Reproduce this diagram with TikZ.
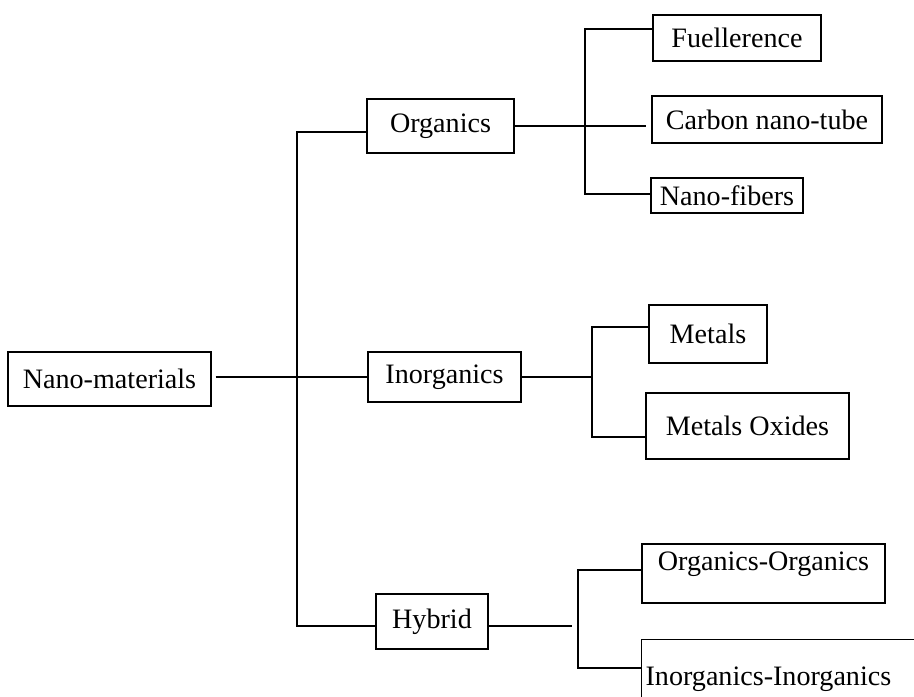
\documentclass[tikz,border=0pt]{standalone}
\usepackage{fontspec}
\setmainfont{Liberation Serif}
\usetikzlibrary{positioning}

\begin{document}
\begin{tikzpicture}[x=0.02cm, y=-0.02cm,
        box/.style={draw, line width=0.7pt, inner sep=0pt, font=\fontsize{16}{19}\selectfont},
        link/.style={line width=0.7pt}]
        \useasboundingbox (0,0) rectangle (914,697);
        \clip (0,0) rectangle (914,697);
        \node[box, minimum width=4.06cm, minimum height=1.08cm] (nano) at (109.5,379) {Nano-materials};
        \node[box, minimum width=2.94cm, minimum height=1.08cm] (org) at (440.5,126) {Organics};
        \node[box, minimum width=3.06cm, minimum height=1.00cm] (inorg) at (444.5,377) {Inorganics};
        \node[box, minimum width=2.24cm, minimum height=1.10cm] (hyb) at (432,621.5) {Hybrid};
        \node[box, minimum width=3.36cm, minimum height=0.92cm] (fuel) at (737,38) {Fuellerence};
        \node[box, minimum width=4.60cm, minimum height=0.94cm] (cnt) at (767,119.5) {Carbon nano-tube};
        \node[box, minimum width=3.04cm, minimum height=0.70cm] (fib) at (727,195.5) {Nano-fibers};
        \node[box, minimum width=2.36cm, minimum height=1.16cm] (met) at (708,334) {Metals};
        \node[box, minimum width=4.06cm, minimum height=1.32cm] (metox) at (747.5,426) {Metals Oxides};
        \node[box, minimum width=4.86cm, minimum height=1.18cm, text depth=0.5cm] (orgorg) at (763.5,573.5) {Organics-Organics};
        \node[box, anchor=north west, inner xsep=0.08cm, text width=5.64cm, align=left,
              minimum height=1.6cm] (inginorg) at (641,639) {Inorganics-Inorganics};
        % trunk
        \coordinate (tTop) at (297,132);
        \coordinate (tBot) at (297,626);
        \draw[link, shorten <=0.08cm] (inorg.west -| nano.east) -- (inorg.west);
        \draw[link] (tTop -| org.west) -- (tTop) -- (tBot) -- (tBot -| hyb.west);
        % organics
        \coordinate (oTop) at (585,29);
        \coordinate (oBot) at (585,194);
        \draw[link, shorten >=0.1cm] (org.east) -- (org.east -| cnt.west);
        \draw[link] (oTop -| fuel.west) -- (oTop) -- (oBot) -- (oBot -| fib.west);
        % inorganics
        \coordinate (iTop) at (592,327);
        \coordinate (iBot) at (592,437);
        \draw[link] (inorg.east) -- (inorg.east -| iTop);
        \draw[link] (iTop -| met.west) -- (iTop) -- (iBot) -- (iBot -| metox.west);
        % hybrid
        \coordinate (hTop) at (578,570);
        \coordinate (hBot) at (578,668);
        \draw[link, shorten >=0.12cm] (tBot -| hyb.east) -- (tBot -| hTop);
        \draw[link] (hTop -| orgorg.west) -- (hTop) -- (hBot) -- (hBot -| inginorg.west);
\end{tikzpicture}
\end{document}
